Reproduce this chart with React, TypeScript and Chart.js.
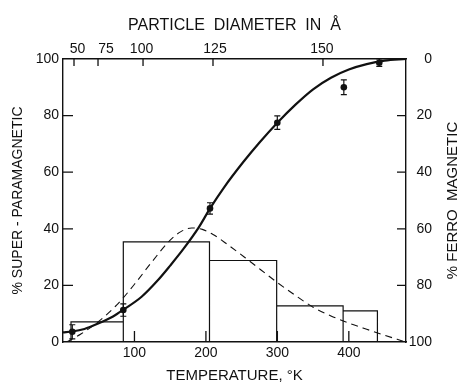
import React, { useEffect, useRef } from 'react';
import { Chart, registerables } from 'chart.js';

Chart.register(...registerables);

// Measured data points (% super-paramagnetic vs temperature, K)
const pointTemps = [13, 84.4, 205.7, 299.9, 393, 442.6];
const pointValues = [3.6, 11.3, 47.2, 77.5, 90, 98.7];
const pointErrors = [2.5, 2.2, 2.0, 2.4, 2.6, 1.3];

// Solid fitted curve
const curveTemps = [0, 13, 30, 50, 70, 85, 110, 133, 150, 168, 190, 206, 225, 252, 275, 300, 325, 350, 375, 400, 425, 450, 480];
const curveValues = [3.4, 3.7, 4.6, 6.6, 9, 11.5, 16, 21.9, 27, 32.7, 40.5, 47.3, 54.5, 63.5, 70.5, 77.5, 83.8, 89.3, 93.4, 96.3, 98.2, 99.4, 100];

// Dashed distribution curve
const distTemps = [5, 25, 50, 75, 100, 125, 150, 165, 180, 195, 210, 230, 260, 300, 325, 350, 375, 400, 425, 450, 476];
const distValues = [0, 2.8, 7.3, 13, 20.4, 28.5, 36, 39, 40.3, 39.8, 38, 34.5, 28.8, 21, 16.5, 12.3, 9.2, 6.7, 4.5, 2.4, 0.3];

// Histogram bins
const binEdges = [11.2, 84.4, 205, 299, 392, 440];
const binValues = [7.1, 35.4, 28.8, 12.8, 11.0];

// Axis ticks
const tempTicks = [100, 200, 300, 400];
const percentTicks = [20, 40, 60, 80];
const diameterLabels = ['50', '75', '100', '125', '150'];
const diameterLabelTemps = [20.3, 60.2, 109.9, 212.7, 362.4];
const diameterTickTemps = [15.4, 49, 112, 209.9, 363.8];

const INK = '#111';
const FONT = "'Liberation Sans', Arial, sans-serif";

const histogramOutline = (() => {
  const pts: { x: number; y: number }[] = [];
  binValues.forEach((h, i) => {
    const a = binEdges[i];
    const b = binEdges[i + 1];
    pts.push({ x: a, y: 0 }, { x: a, y: h }, { x: b, y: h }, { x: b, y: 0 });
  });
  return pts;
})();

const decor = {
  id: 'decor',
  afterDatasetsDraw(chart: any) {
    const { ctx, chartArea: a, scales } = chart;
    const xs = scales.x;
    const ys = scales.y;
    ctx.save();
    ctx.strokeStyle = INK;
    ctx.lineWidth = 1.2;
    ctx.setLineDash([]);
    // error bars
    pointTemps.forEach((t, i) => {
      const px = xs.getPixelForValue(t);
      const top = ys.getPixelForValue(pointValues[i] + pointErrors[i]);
      const bot = ys.getPixelForValue(pointValues[i] - pointErrors[i]);
      ctx.beginPath();
      ctx.moveTo(px, top);
      ctx.lineTo(px, bot);
      ctx.moveTo(px - 3, top);
      ctx.lineTo(px + 3, top);
      ctx.moveTo(px - 3, bot);
      ctx.lineTo(px + 3, bot);
      ctx.stroke();
    });
    // inward tick marks
    ctx.lineWidth = 1.3;
    ctx.beginPath();
    percentTicks.forEach((v) => {
      const py = ys.getPixelForValue(v);
      ctx.moveTo(a.left, py);
      ctx.lineTo(a.left + 10, py);
      const py2 = scales.y1.getPixelForValue(100 - v);
      ctx.moveTo(a.right, py2);
      ctx.lineTo(a.right - 9, py2);
    });
    tempTicks.forEach((v) => {
      const px = xs.getPixelForValue(v);
      ctx.moveTo(px, a.bottom);
      ctx.lineTo(px, a.bottom - 11);
    });
    diameterTickTemps.forEach((v) => {
      const px = scales.x2.getPixelForValue(v);
      ctx.moveTo(px, a.top);
      ctx.lineTo(px, a.top + 7);
    });
    ctx.stroke();
    ctx.restore();
  },
  afterDraw(chart: any) {
    const { ctx, chartArea: a } = chart;
    ctx.save();
    ctx.fillStyle = INK;
    ctx.font = `15px ${FONT}`;
    ctx.textAlign = 'center';
    ctx.textBaseline = 'middle';
    ctx.translate(453, (a.top + a.bottom) / 2);
    ctx.rotate(-Math.PI / 2);
    ctx.fillText('% FERRO  MAGNETIC', 0, 0);
    ctx.restore();
  },
};

export default function App() {
  const ref = useRef<HTMLCanvasElement>(null);

  useEffect(() => {
    const canvas = ref.current;
    if (!canvas) return;
    Chart.defaults.font.family = FONT;
    Chart.defaults.color = INK;

    const border = { display: true, color: INK, width: 1.4 };
    const grid = { display: false, drawTicks: false, drawOnChartArea: false };

    const chart = new Chart(canvas, {
      type: 'scatter',
      data: {
        datasets: [
          {
            label: 'points',
            data: pointTemps.map((t, i) => ({ x: t, y: pointValues[i] })),
            showLine: false,
            pointRadius: 3.3,
            pointBackgroundColor: INK,
            pointBorderColor: INK,
            pointBorderWidth: 0,
          },
          {
            label: 'fit',
            data: curveTemps.map((t, i) => ({ x: t, y: curveValues[i] })),
            showLine: true,
            borderColor: INK,
            borderWidth: 2.2,
            pointRadius: 0,
            cubicInterpolationMode: 'monotone',
            fill: false,
          },
          {
            label: 'distribution',
            data: distTemps.map((t, i) => ({ x: t, y: distValues[i] })),
            showLine: true,
            borderColor: INK,
            borderWidth: 1.1,
            borderDash: [7, 5],
            pointRadius: 0,
            cubicInterpolationMode: 'monotone',
            fill: false,
          },
          {
            label: 'histogram',
            data: histogramOutline,
            showLine: true,
            borderColor: INK,
            borderWidth: 1.2,
            pointRadius: 0,
            tension: 0,
            fill: false,
          },
        ],
      },
      options: {
        responsive: false,
        animation: false,
        events: [],
        layout: { padding: { left: 0, top: 0, bottom: 0, right: 29 } },
        plugins: { legend: { display: false }, tooltip: { enabled: false }, title: { display: false } },
        scales: {
          x: {
            type: 'linear',
            position: 'bottom',
            min: 0,
            max: 480,
            afterBuildTicks: (s: any) => {
              s.ticks = tempTicks.map((v) => ({ value: v }));
            },
            afterFit: (s: any) => {
              s.height = 42;
            },
            grid,
            border,
            ticks: { padding: 3, autoSkip: false, maxRotation: 0, color: INK, font: { size: 14 } },
            title: {
              display: true,
              text: 'TEMPERATURE, °K',
              color: INK,
              font: { size: 15 },
              padding: { top: 0, bottom: -1 },
            },
          },
          x2: {
            type: 'linear',
            position: 'top',
            min: 0,
            max: 480,
            afterBuildTicks: (s: any) => {
              s.ticks = diameterLabelTemps.map((v) => ({ value: v }));
            },
            afterFit: (s: any) => {
              s.height = 59;
            },
            grid,
            border,
            ticks: {
              padding: 1,
              autoSkip: false,
              maxRotation: 0,
              color: INK,
              font: { size: 14 },
              callback: (_v: any, i: number) => diameterLabels[i],
            },
            title: {
              display: true,
              text: 'PARTICLE  DIAMETER  IN  Å',
              color: INK,
              font: { size: 16 },
              padding: { top: 16, bottom: 0 },
            },
          },
          y: {
            type: 'linear',
            position: 'left',
            min: 0,
            max: 100,
            afterFit: (s: any) => {
              s.width = 63;
            },
            grid,
            border,
            ticks: { stepSize: 20, padding: 4, color: INK, font: { size: 14 } },
            title: {
              display: true,
              text: '% SUPER - PARAMAGNETIC',
              color: INK,
              font: { size: 14 },
              padding: { top: 10, bottom: 0 },
            },
          },
          y1: {
            type: 'linear',
            position: 'right',
            min: 0,
            max: 100,
            reverse: true,
            afterFit: (s: any) => {
              s.width = 26;
            },
            grid,
            border,
            ticks: { stepSize: 20, padding: 4, crossAlign: 'far', color: INK, font: { size: 14 } },
          },
        },
      } as any,
      plugins: [decor],
    });
    return () => chart.destroy();
  }, []);

  return (
    <div style={{ position: 'fixed', left: 0, top: 0, width: 461, height: 384, background: '#fff' }}>
      <canvas ref={ref} width={461} height={384} style={{ display: 'block' }} />
    </div>
  );
}
